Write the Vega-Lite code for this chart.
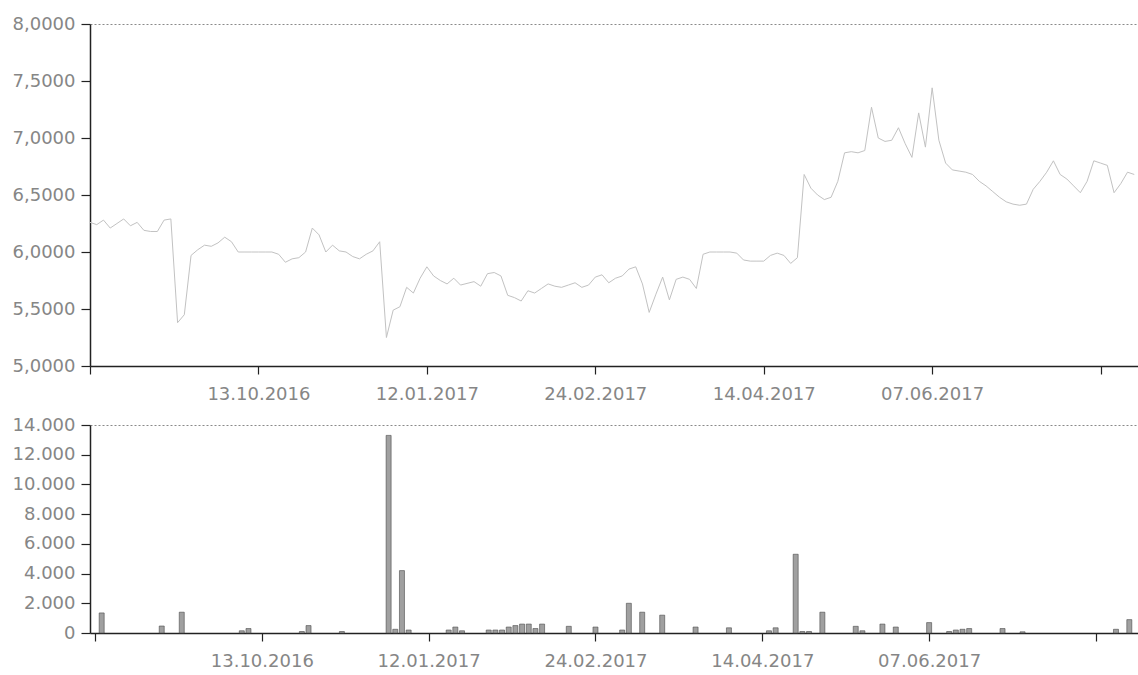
{
  "$schema": "https://vega.github.io/schema/vega-lite/v6.json",
  "padding": {"left": 12, "top": 15, "right": 0, "bottom": 0},
  "background": "white",
  "spacing": 13,
  "config": {
    "view": {"stroke": null},
    "font": "DejaVu Sans",
    "axis": {
      "domainColor": "#222222",
      "domainWidth": 1.5,
      "tickColor": "#222222",
      "tickWidth": 1.2,
      "tickSize": 9,
      "labelColor": "#868686",
      "labelFont": "DejaVu Sans",
      "labelFontSize": 18,
      "labelPadding": 6,
      "title": null,
      "labelFlush": false,
      "labelOverlap": false
    }
  },
  "datasets": {
    "price": [
      {"i":0,"p":6.26},{"i":1,"p":6.24},{"i":2,"p":6.28},{"i":3,"p":6.21},{"i":4,"p":6.25},{"i":5,"p":6.29},{"i":6,"p":6.23},{"i":7,"p":6.26},{"i":8,"p":6.19},{"i":9,"p":6.18},
      {"i":10,"p":6.18},{"i":11,"p":6.28},{"i":12,"p":6.29},{"i":13,"p":5.38},{"i":14,"p":5.45},{"i":15,"p":5.97},{"i":16,"p":6.02},{"i":17,"p":6.06},{"i":18,"p":6.05},{"i":19,"p":6.08},
      {"i":20,"p":6.13},{"i":21,"p":6.09},{"i":22,"p":6.0},{"i":23,"p":6.0},{"i":24,"p":6.0},{"i":25,"p":6.0},{"i":26,"p":6.0},{"i":27,"p":6.0},{"i":28,"p":5.98},{"i":29,"p":5.91},
      {"i":30,"p":5.94},{"i":31,"p":5.95},{"i":32,"p":6.0},{"i":33,"p":6.21},{"i":34,"p":6.15},{"i":35,"p":6.0},{"i":36,"p":6.06},{"i":37,"p":6.01},{"i":38,"p":6.0},{"i":39,"p":5.96},
      {"i":40,"p":5.94},{"i":41,"p":5.98},{"i":42,"p":6.01},{"i":43,"p":6.09},{"i":44,"p":5.25},{"i":45,"p":5.49},{"i":46,"p":5.52},{"i":47,"p":5.69},{"i":48,"p":5.64},{"i":49,"p":5.77},
      {"i":50,"p":5.87},{"i":51,"p":5.79},{"i":52,"p":5.75},{"i":53,"p":5.72},{"i":54,"p":5.77},{"i":55,"p":5.71},{"i":57,"p":5.74},{"i":58,"p":5.70},{"i":59,"p":5.81},
      {"i":60,"p":5.82},{"i":61,"p":5.79},{"i":62,"p":5.62},{"i":63,"p":5.60},{"i":64,"p":5.57},{"i":65,"p":5.66},{"i":66,"p":5.64},{"i":67,"p":5.68},{"i":68,"p":5.72},{"i":69,"p":5.70},
      {"i":70,"p":5.69},{"i":71,"p":5.71},{"i":72,"p":5.73},{"i":73,"p":5.69},{"i":74,"p":5.71},{"i":75,"p":5.78},{"i":76,"p":5.80},{"i":77,"p":5.73},{"i":78,"p":5.77},{"i":79,"p":5.79},
      {"i":80,"p":5.85},{"i":81,"p":5.87},{"i":82,"p":5.72},{"i":83,"p":5.47},{"i":84,"p":5.63},{"i":85,"p":5.78},{"i":86,"p":5.58},{"i":87,"p":5.76},{"i":88,"p":5.78},{"i":89,"p":5.76},
      {"i":90,"p":5.68},{"i":91,"p":5.98},{"i":92,"p":6.0},{"i":93,"p":6.0},{"i":94,"p":6.0},{"i":95,"p":6.0},{"i":96,"p":5.99},{"i":97,"p":5.93},{"i":98,"p":5.92},{"i":99,"p":5.92},
      {"i":100,"p":5.92},{"i":101,"p":5.97},{"i":102,"p":5.99},{"i":103,"p":5.97},{"i":104,"p":5.90},{"i":105,"p":5.95},{"i":106,"p":6.68},{"i":107,"p":6.56},{"i":108,"p":6.50},{"i":109,"p":6.46},
      {"i":110,"p":6.48},{"i":111,"p":6.62},{"i":112,"p":6.87},{"i":113,"p":6.88},{"i":114,"p":6.87},{"i":115,"p":6.89},{"i":116,"p":7.27},{"i":117,"p":7.0},{"i":118,"p":6.97},{"i":119,"p":6.98},
      {"i":120,"p":7.09},{"i":121,"p":6.95},{"i":122,"p":6.83},{"i":123,"p":7.22},{"i":124,"p":6.92},{"i":125,"p":7.44},{"i":126,"p":6.98},{"i":127,"p":6.78},{"i":128,"p":6.72},{"i":129,"p":6.71},
      {"i":130,"p":6.70},{"i":131,"p":6.68},{"i":132,"p":6.62},{"i":133,"p":6.58},{"i":134,"p":6.53},{"i":135,"p":6.48},{"i":136,"p":6.44},{"i":137,"p":6.42},{"i":138,"p":6.41},{"i":139,"p":6.42},
      {"i":140,"p":6.55},{"i":141,"p":6.62},{"i":142,"p":6.70},{"i":143,"p":6.80},{"i":144,"p":6.68},{"i":145,"p":6.64},{"i":146,"p":6.58},{"i":147,"p":6.52},{"i":148,"p":6.62},{"i":149,"p":6.80},
      {"i":150,"p":6.78},{"i":151,"p":6.76},{"i":152,"p":6.52},{"i":153,"p":6.60},{"i":154,"p":6.70},{"i":155,"p":6.68}
    ],
    "volume": [
      {"i":1,"v":1350},{"i":10,"v":470},{"i":13,"v":1400},{"i":22,"v":150},{"i":23,"v":300},{"i":31,"v":100},{"i":32,"v":500},{"i":37,"v":100},
      {"i":44,"v":13300},{"i":45,"v":250},{"i":46,"v":4200},{"i":47,"v":200},{"i":53,"v":200},{"i":54,"v":400},{"i":55,"v":150},
      {"i":59,"v":200},{"i":60,"v":200},{"i":61,"v":200},{"i":62,"v":400},{"i":63,"v":500},{"i":64,"v":600},{"i":65,"v":600},{"i":66,"v":300},{"i":67,"v":600},
      {"i":71,"v":450},{"i":75,"v":400},{"i":79,"v":200},{"i":80,"v":2000},{"i":82,"v":1400},{"i":85,"v":1200},{"i":90,"v":400},{"i":95,"v":350},
      {"i":101,"v":150},{"i":102,"v":350},{"i":105,"v":5300},{"i":106,"v":100},{"i":107,"v":100},{"i":109,"v":1400},{"i":114,"v":450},{"i":115,"v":150},
      {"i":118,"v":600},{"i":120,"v":400},{"i":125,"v":700},{"i":128,"v":100},{"i":129,"v":200},{"i":130,"v":250},{"i":131,"v":300},{"i":136,"v":300},{"i":139,"v":80},
      {"i":153,"v":250},{"i":155,"v":900}
    ]
  },
  "vconcat": [
    {
      "width": 1051,
      "height": 342,
      "data": {"name": "price"},
      "mark": {"type": "line", "color": "#c2c2c2", "strokeWidth": 1},
      "encoding": {
        "x": {
          "field": "i", "type": "quantitative",
          "scale": {"domain": [0, 156], "nice": false, "zero": false},
          "axis": {
            "values": [0, 25, 50, 75, 100, 125, 150],
            "labelExpr": "datum.value == 25 ? '13.10.2016' : datum.value == 50 ? '12.01.2017' : datum.value == 75 ? '24.02.2017' : datum.value == 100 ? '14.04.2017' : datum.value == 125 ? '07.06.2017' : ''",
            "grid": false,
            "tickSize": 8, "labelPadding": 11
          }
        },
        "y": {
          "field": "p", "type": "quantitative",
          "scale": {"domain": [5, 8], "nice": false, "zero": false},
          "axis": {
            "values": [5, 5.5, 6, 6.5, 7, 7.5, 8],
            "labelExpr": "replace(format(datum.value, '.4f'), '.', ',')",
            "grid": true,
            "gridColor": "#8a8a8a",
            "gridDash": [2, 2],
            "gridOpacity": {"condition": {"test": "datum.value == 8", "value": 1}, "value": 0}
          }
        }
      }
    },
    {
      "width": 1051,
      "height": 208,
      "data": {"name": "volume"},
      "mark": {"type": "bar", "width": 5, "fill": "#a0a0a0", "stroke": "#4a4a4a", "strokeWidth": 0.6},
      "encoding": {
        "x": {
          "field": "i", "type": "quantitative",
          "scale": {"domain": [0, 156], "nice": false, "zero": false},
          "axis": {
            "values": [0, 25, 50, 75, 100, 125, 150],
            "labelExpr": "datum.value == 25 ? '13.10.2016' : datum.value == 50 ? '12.01.2017' : datum.value == 75 ? '24.02.2017' : datum.value == 100 ? '14.04.2017' : datum.value == 125 ? '07.06.2017' : ''",
            "grid": false,
            "tickSize": 8, "labelPadding": 11
          }
        },
        "y": {
          "field": "v", "type": "quantitative",
          "scale": {"domain": [0, 14000], "nice": false},
          "axis": {
            "values": [0, 2000, 4000, 6000, 8000, 10000, 12000, 14000],
            "labelExpr": "replace(format(datum.value, ','), ',', '.')",
            "grid": true,
            "gridColor": "#8a8a8a",
            "gridDash": [2, 2],
            "gridOpacity": {"condition": {"test": "datum.value == 14000", "value": 1}, "value": 0}
          }
        }
      }
    }
  ]
}
